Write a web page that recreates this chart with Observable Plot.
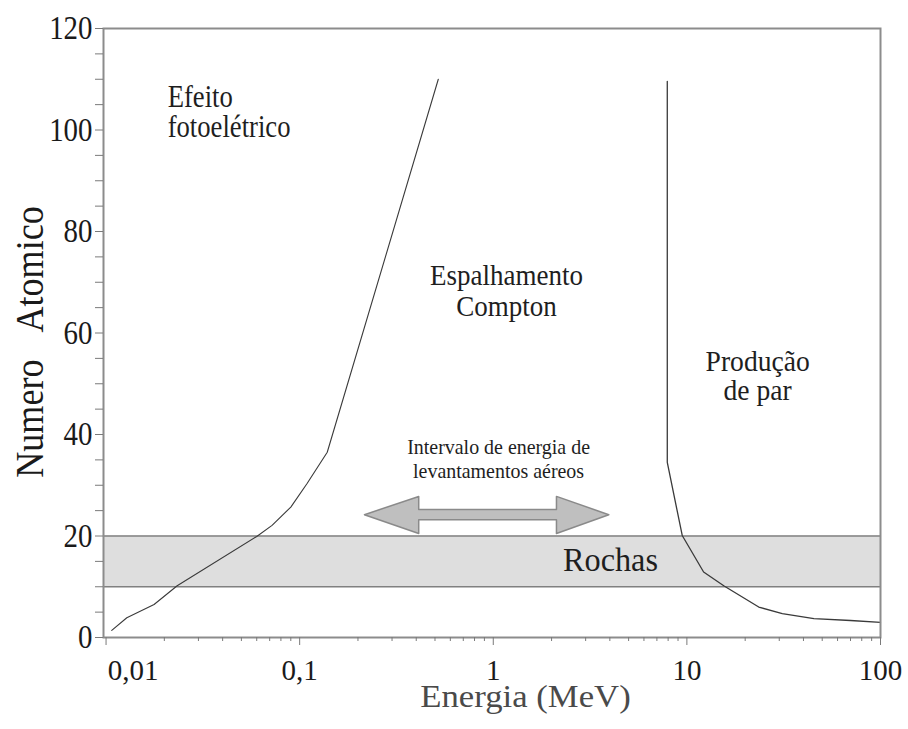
<!DOCTYPE html>
<html><head><meta charset="utf-8">
<script src="https://cdn.jsdelivr.net/npm/d3@7"></script>
<script src="https://cdn.jsdelivr.net/npm/@observablehq/plot@0.6"></script>
<style>
body{margin:0;background:#fff;}
svg text, svg tspan { font-family: "Liberation Serif", "Times New Roman", serif; }
</style>
</head><body><div id="chart"></div>
<script>
// Photoelectric / Compton boundary
const photoE = [0.0107, 0.0128, 0.0177, 0.0233, 0.060, 0.072, 0.090, 0.109, 0.1388, 0.52];
const photoZ = [1.4, 3.9, 6.5, 10.2, 19.9, 22.1, 25.7, 30.3, 36.5, 110];
// Compton / pair production boundary
const pairE = [7.92, 7.92, 9.46, 12.2, 15.5, 23.5, 31.1, 45.3, 70, 100];
const pairZ = [109.6, 34.5, 20.1, 12.9, 10.2, 6.0, 4.7, 3.7, 3.35, 3.0];
// Rock band (atomic number range)
const rockZ = [10, 20];
// Airborne survey energy interval arrow outline
const arrowE = [0.216, 0.412, 0.412, 2.12, 2.12, 3.95, 2.12, 2.12, 0.412, 0.412];
const arrowZ = [24.2, 27.8, 25.2, 25.2, 27.8, 24.2, 20.5, 23.2, 23.2, 20.5];
// Ticks
const xTicks = [0.01, 0.1, 1, 10, 100];
const xTickLabels = ["0,01", "0,1", "1", "10", "100"];
const yTicks = [0, 20, 40, 60, 80, 100, 120];
// Annotations
const annoText = ["Efeito\nfotoelétrico", "Espalhamento\nCompton", "Produção\nde par", "Intervalo de energia de\nlevantamentos aéreos", "Rochas"];
const annoE = [0.0208, 1.17, 23.2, 1.065, 4.03];
const annoZ = [98.7, 63.4, 46.7, 31.5, 13.06];

const photo = photoE.map((e, i) => ({E: e, Z: photoZ[i]}));
const pair = pairE.map((e, i) => ({E: e, Z: pairZ[i]}));
const arrow = arrowE.map((e, i) => ({E: e, Z: arrowZ[i]}));
const annos = annoText.map((t, i) => ({t, E: annoE[i], Z: annoZ[i]}));
const xMinor = [0.01, 0.1, 1, 10].flatMap(d => d3.range(2, 10).map(k => +(k * d).toPrecision(3)));
const yMinor = d3.range(5, 120, 5).filter(v => v % 20 !== 0);
const fmtX = d => xTickLabels[xTicks.indexOf(d)];

const FF = "Liberation Serif, Times New Roman, serif";
const annoStyle = [
  {textAnchor: "start", fontSize: 31, lineHeight: 0.97},
  {textAnchor: "middle", fontSize: 30, lineHeight: 1.03},
  {textAnchor: "middle", fontSize: 30, lineHeight: 1.0},
  {textAnchor: "middle", fontSize: 21, lineHeight: 1.14},
  {textAnchor: "middle", fontSize: 34, lineHeight: 1}
];

const axisCol = "#7a7a7a";
const plot = Plot.plot({
  width: 908,
  height: 729,
  marginLeft: 103,
  marginRight: 28,
  marginTop: 28,
  marginBottom: 92,
  style: {fontFamily: FF, background: "#fff", color: "#1a1a1a"},
  x: {type: "log", domain: [0.0097, 100], axis: null},
  y: {domain: [0, 120], axis: null},
  marks: [
    Plot.rect([rockZ], {y1: d => d[0], y2: d => d[1], fill: "#dedede"}),
    Plot.ruleY(rockZ, {stroke: "#808080", strokeWidth: 1.5}),
    Plot.line(arrow, {x: "E", y: "Z", curve: "linear-closed", fill: "#bfbfbf", stroke: "#8a8a8a", strokeWidth: 1.5}),
    Plot.line(photo, {x: "E", y: "Z", stroke: "#3a3a3a", strokeWidth: 1.1}),
    Plot.line(pair, {x: "E", y: "Z", stroke: "#3a3a3a", strokeWidth: 1.3}),
    ...annos.map((a, i) => Plot.text([a], {x: "E", y: "Z", text: "t", lineAnchor: "bottom", fill: "#1e1e1e", fontFamily: FF, ariaLabel: () => "anno-" + i, ...annoStyle[i]})),
    Plot.frame({stroke: "#8c8c8c", strokeWidth: 2}),
    Plot.axisY(yTicks, {tickSize: 8, tickPadding: 3, fontSize: 34, fontFamily: FF, stroke: axisCol, fill: "#1a1a1a", label: null}),
    Plot.axisY(yMinor, {tickSize: 8, text: null, stroke: axisCol, label: null}),
    Plot.axisX(xTicks, {tickSize: 8, text: null, stroke: axisCol, label: null}),
    Plot.axisX(xMinor, {tickSize: 4, text: null, stroke: axisCol, label: null}),
    Plot.axisX(xTicks.slice(1), {tickSize: 0, tickPadding: 22, fontSize: 29, fontFamily: FF, tickFormat: fmtX, fill: "#1a1a1a", label: null}),
    Plot.axisX(xTicks.slice(0, 1), {tickSize: 0, tickPadding: 22, dx: 27, fontSize: 29, fontFamily: FF, tickFormat: fmtX, fill: "#1a1a1a", label: null}),
    Plot.text(["Numero\u00a0\u00a0\u00a0Atomico"], {text: d => d, frameAnchor: "left", rotate: -90, textAnchor: "middle", lineAnchor: "bottom", dx: -61, dy: 9, fontSize: 41, fontFamily: FF, fill: "#1a1a1a", ariaLabel: () => "ylabel"}),
    Plot.text(["Energia (MeV)"], {text: d => d, frameAnchor: "bottom", lineAnchor: "bottom", dx: 33.5, dy: 69, fontSize: 31, fontFamily: FF, fill: "#4a4a4a", ariaLabel: () => "xlabel"})
  ]
});

// Horizontally condense some texts to mimic the narrow serif of the original
const condense = {
  "y-axis tick label": 0.85,
  "anno-0": 0.86, "anno-1": 0.9, "anno-2": 0.92, "anno-3": 0.95, "anno-4": 0.95,
  "ylabel": 0.88, "xlabel": 1.12
};
for (const [label, sx] of Object.entries(condense)) {
  plot.querySelectorAll(`g[aria-label="${label}"] text, text[aria-label="${label}"]`).forEach(t => {
    const tr = t.getAttribute("transform") || "";
    t.setAttribute("transform", `${tr} scale(${sx},1)`);
  });
}
document.getElementById("chart").append(plot);
</script>
</body></html>
